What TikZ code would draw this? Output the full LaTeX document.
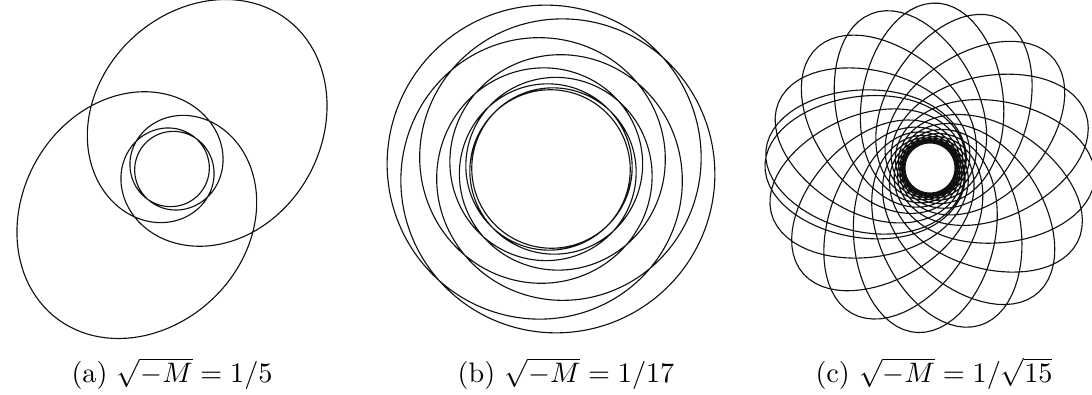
\documentclass[tikz,border=0pt]{standalone}
\usepackage{amsmath, amssymb}
\usepackage{tikz}
\usetikzlibrary{positioning}
\usepackage{xcolor}
\definecolor{orbitInk}{HTML}{111111}

\tikzset{declare function={orbr(\t,\w,\e,\q)=\q/sqrt(cos(\w*\t)*cos(\w*\t)/(\e*\e)+sin(\w*\t)*sin(\w*\t));}}

\begin{document}
\begin{tikzpicture}[x=0.355pt, y=0.355pt, orbit/.style={draw=orbitInk, line width=0.4pt, line join=round}]
        \useasboundingbox (0,0) rectangle (1092,395);
        % three orbits: centre x/centre y/alpha/axis ratio/min radius/turn/range/samples
        \foreach \cx/\cy/\al/\ra/\rmin/\rot/\tmin/\tmax/\n in {%
          172/226/0.2/5.1/37/52/0/1800/900,
          551/226/0.111111/2.1/79/135/0/3240/1600,
          930/227/0.258199/6.6/25/202/348.57/12200/4600%
        } {
          \begin{scope}[shift={(\cx,\cy)}, rotate=\rot]
            \draw[orbit] plot[domain=\tmin:\tmax, samples=\n]
              ({orbr(\x,\al,\ra,\rmin)*cos(\x)}, {orbr(\x,\al,\ra,\rmin)*sin(\x)});
          \end{scope}
        }
        \node[anchor=base] (lab-a) at (172,12) {(a) $\sqrt{-M}=1/5$};
        \node[anchor=base] (lab-b) at (566,12) {(b) $\sqrt{-M}=1/17$};
        \node[anchor=base] (lab-c) at (934,12) {(c) $\sqrt{-M}=1/\sqrt{15}$};
      \end{tikzpicture}
\end{document}
